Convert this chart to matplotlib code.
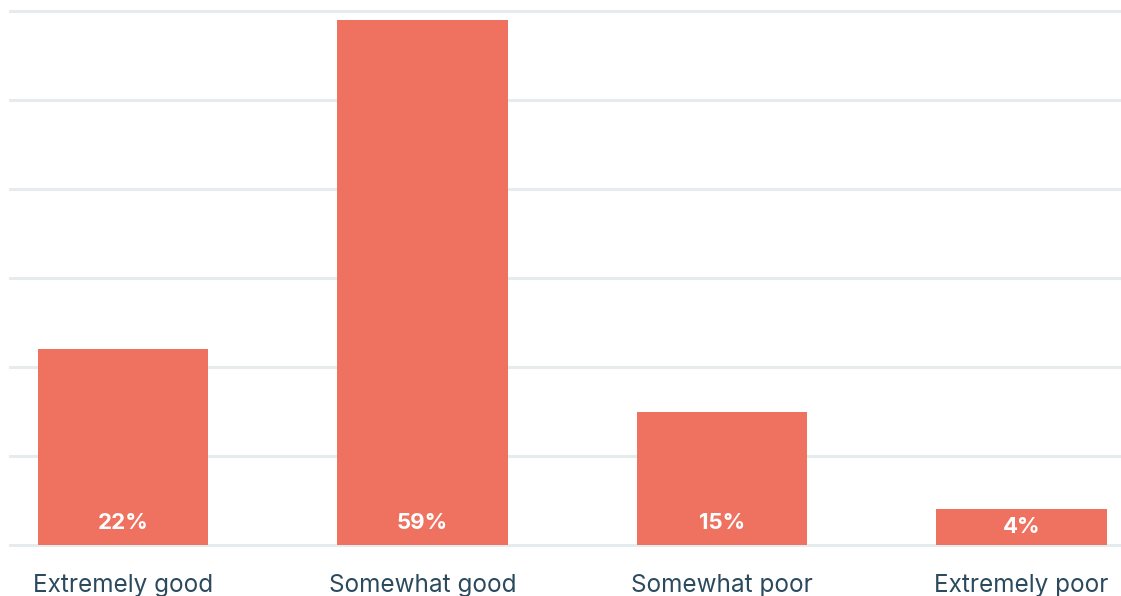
import matplotlib.pyplot as plt

categories = ["Extremely good", "Somewhat good", "Somewhat poor", "Extremely poor"]
values = [22, 59, 15, 4]
yticks = [0, 10, 20, 30, 40, 50, 60]

BAR = "#EF7260"
GRID = "#E6EBEE"
TEXT = "#2B4A5E"

fig = plt.figure(figsize=(11.21, 5.96), dpi=100)
ax = fig.add_axes([10 / 1121, 1 - 545 / 596, 1 - 10 / 1121, (545 - 11) / 596])

x = list(range(len(categories)))
ax.bar(x, values, width=0.568, color=BAR, zorder=2)

for xi, v in zip(x, values):
    ax.text(xi, min(2.5, v / 2), f"{v}%", ha="center", va="center",
            color="white", fontsize=16, fontweight="bold", family="Inter", zorder=3)

ax.set_xlim(-0.377, 3.332)
ax.set_ylim(0, 60)
ax.set_yticks(yticks)
ax.set_yticklabels([])
ax.tick_params(axis="y", length=0)
for t in yticks:
    ax.axhline(t, color=GRID, linewidth=2.2, zorder=1, clip_on=False)

ax.set_xticks(x)
ax.set_xticklabels(categories, fontsize=17.5, color=TEXT, family="Inter")
ax.tick_params(axis="x", length=0, pad=21)

for s in ax.spines.values():
    s.set_visible(False)
ax.grid(False)

fig.savefig("out.png", dpi=100)
